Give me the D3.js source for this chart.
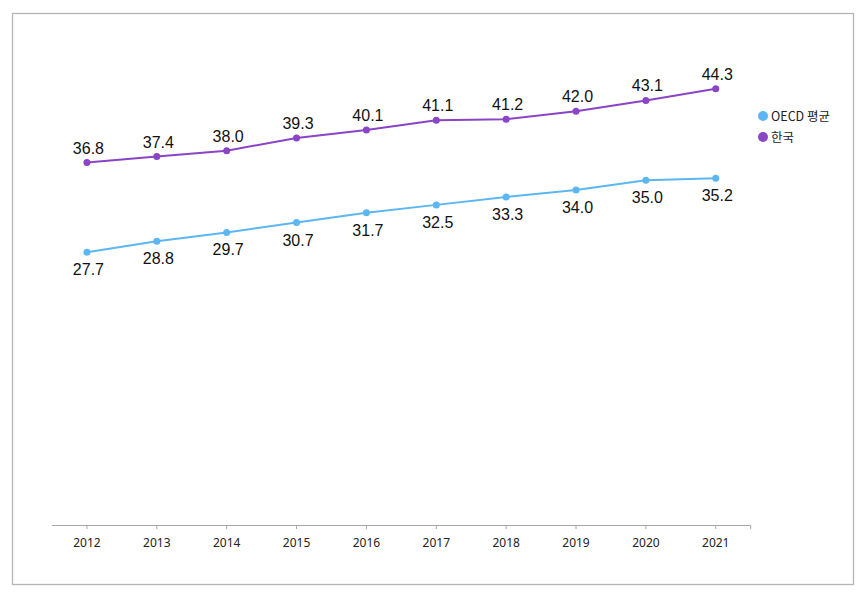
<!DOCTYPE html>
<html><head><meta charset="utf-8">
<script src="https://cdn.jsdelivr.net/npm/d3@7"></script>
<style>body{margin:0;background:#fff}</style>
</head><body>
<svg id="c" width="865" height="592"></svg>
<script>
const years = ["2012","2013","2014","2015","2016","2017","2018","2019","2020","2021"];
const oecd = [27.7,28.8,29.7,30.7,31.7,32.5,33.3,34.0,35.0,35.2];
const korea = [36.8,37.4,38.0,39.3,40.1,41.1,41.2,42.0,43.1,44.3];
const seriesNames = ["OECD 평균","한국"];
const colors = ["#5cb6f2","#8a44c6"];

const svg = d3.select("#c");
svg.append("rect").attr("x",12.5).attr("y",13.5).attr("width",841).attr("height",571)
  .attr("fill","none").attr("stroke","#b5b5b5").attr("stroke-width",1.3);

const x = d3.scaleBand().domain(years).range([52,750.7]);
const y = d3.scaleLinear().domain([0,50]).range([525,32.5]);
const cx = d => x(d) + x.bandwidth()/2;

// x axis
const ax = svg.append("g");
ax.append("line").attr("x1",52).attr("x2",750.7).attr("y1",525.5).attr("y2",525.5).attr("stroke","#a6a6a6").attr("stroke-width",1);
const tickXs = years.map(cx).concat([750.7]);
ax.selectAll("line.t").data(tickXs).enter().append("line").attr("class","t")
  .attr("x1",d=>d).attr("x2",d=>d).attr("y1",525).attr("y2",529).attr("stroke","#a6a6a6");
ax.selectAll("text").data(years).enter().append("text")
  .attr("x",d=>cx(d)).attr("y",547).attr("text-anchor","middle")
  .attr("font-family","'Noto Sans', sans-serif").attr("font-size",12).attr("fill","#222")
  .text(d=>d);

const data = [oecd, korea];
const line = d3.line().x((d,i)=>cx(years[i])).y(d=>y(d));
data.forEach((vals,k)=>{
  const g = svg.append("g");
  g.append("path").attr("d",line(vals)).attr("fill","none").attr("stroke",colors[k]).attr("stroke-width",2);
  g.selectAll("circle").data(vals).enter().append("circle")
    .attr("cx",(d,i)=>cx(years[i])).attr("cy",d=>y(d)).attr("r",3.5).attr("fill",colors[k]);
  g.selectAll("text").data(vals).enter().append("text")
    .attr("x",(d,i)=>cx(years[i])+1.5).attr("y",d=> k===0 ? y(d)+23 : y(d)-9)
    .attr("text-anchor","middle").attr("font-family","'Liberation Sans', Arial, sans-serif")
    .attr("font-size",16).attr("fill","#111").text(d=>d.toFixed(1));
});

// legend
const lg = svg.append("g");
seriesNames.forEach((n,k)=>{
  const ly = 116 + k*21;
  lg.append("circle").attr("cx",763).attr("cy",ly).attr("r",5).attr("fill",colors[k]);
  lg.append("text").attr("x",771).attr("y",ly+4.5).attr("font-family","'Noto Sans CJK KR', sans-serif")
    .attr("font-size",12.5).attr("fill","#222").text(n);
});
</script>
</body></html>
